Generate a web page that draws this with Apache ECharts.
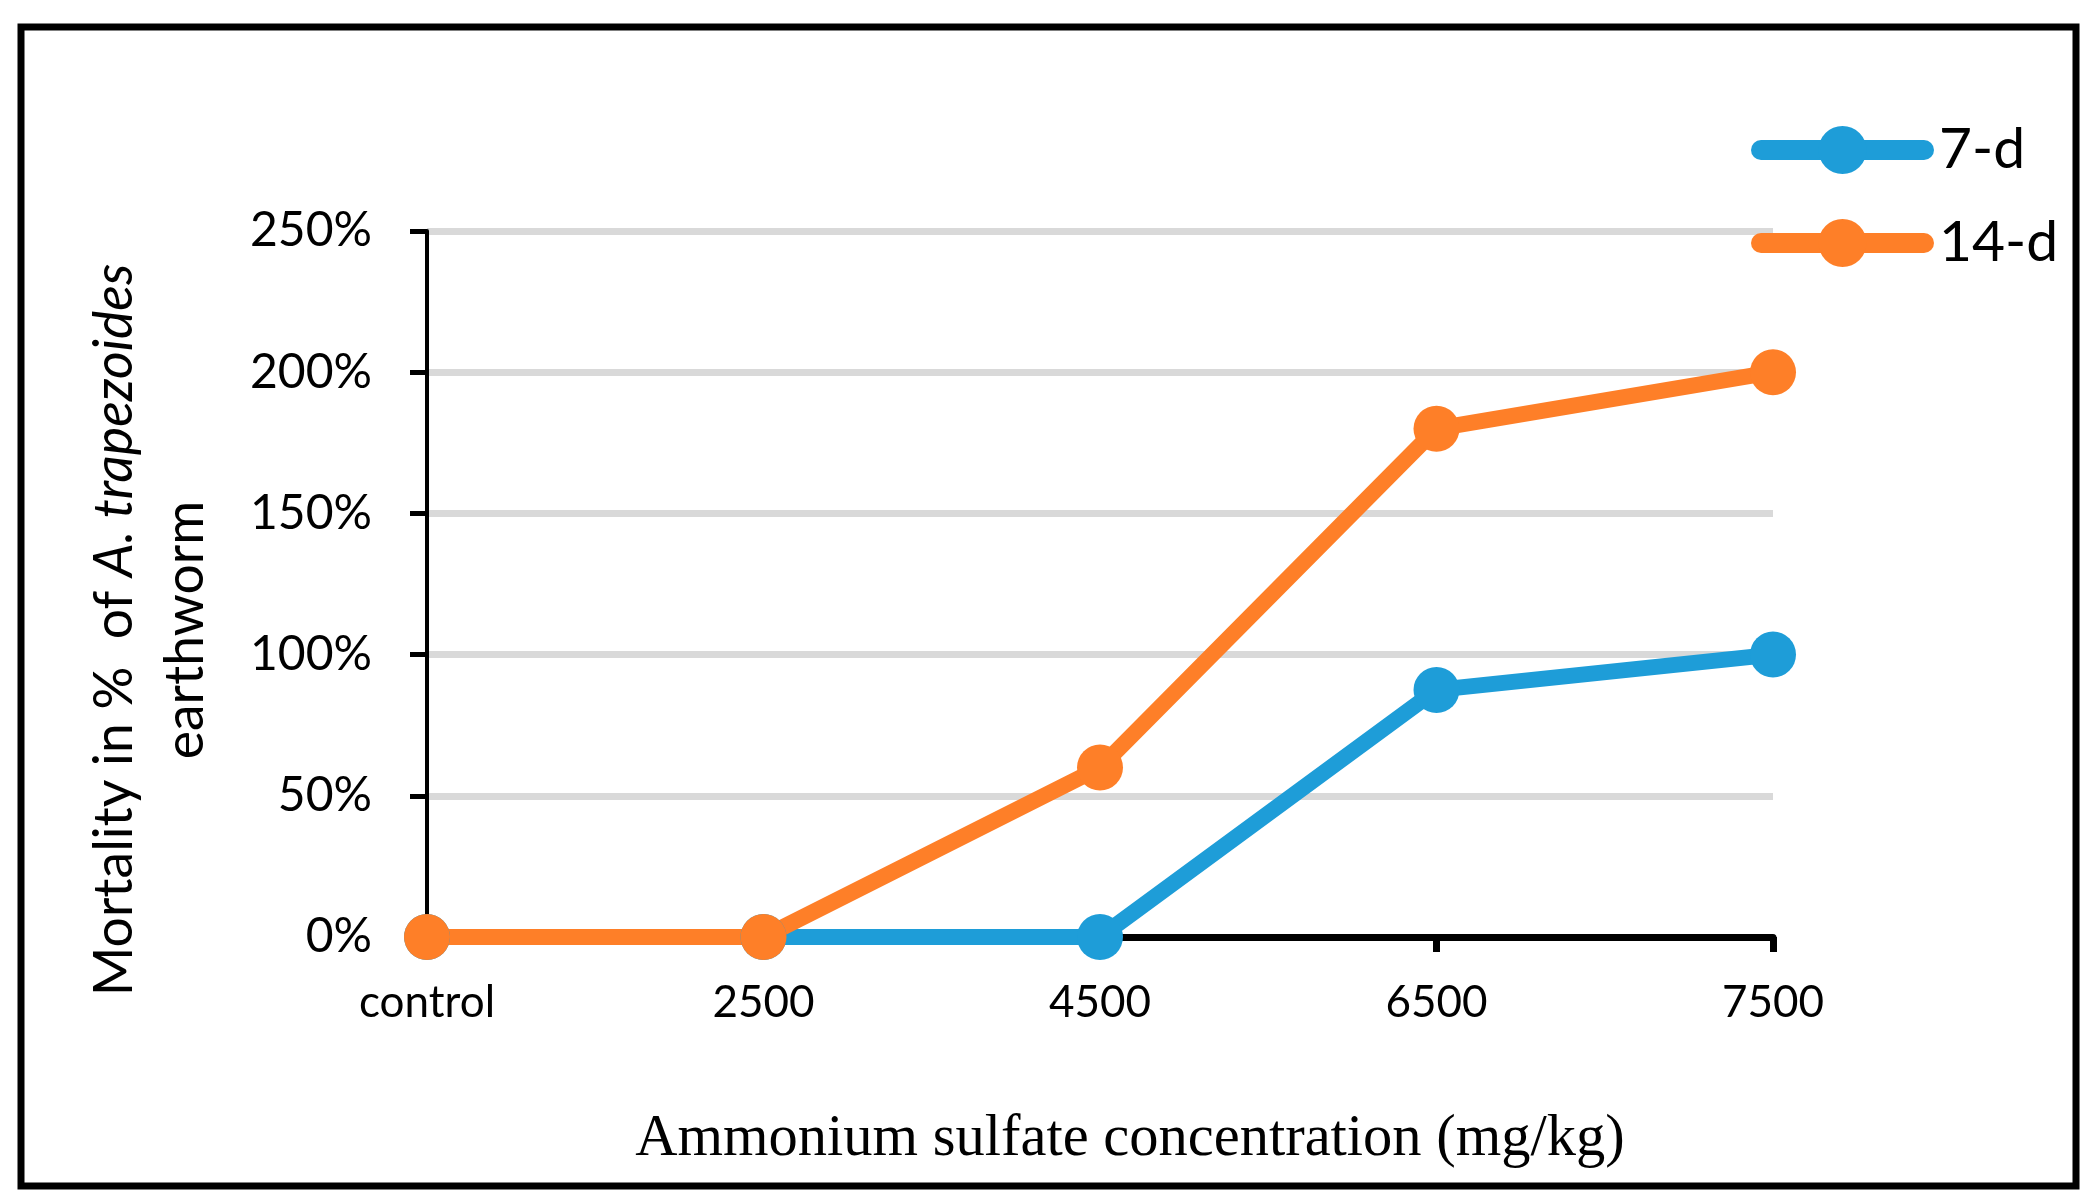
<!DOCTYPE html>
<html>
<head>
<meta charset="utf-8">
<script src="https://cdn.jsdelivr.net/npm/echarts@6/dist/echarts.min.js"></script>
<style>
html,body{margin:0;padding:0;background:#fff;}
#chart{width:2095px;height:1202px;}
</style>
</head>
<body>
<div id="chart"></div>
<script>
const categories = ['control', '2500', '4500', '6500', '7500'];
const mortality7d = [0, 0, 0, 87.5, 100];
const mortality14d = [0, 0, 60, 180, 200];
const yTicks = { min: 0, max: 250, interval: 50 };
const seriesNames = ['7-d', '14-d'];
const xAxisTitle = 'Ammonium sulfate concentration (mg/kg)';
const yTitleLine1a = 'Mortality in %  of ';
const yTitleLine1b = 'A. trapezoides';
const yTitleLine2 = 'earthworm';

const chart = echarts.init(document.getElementById('chart'));
const sansFont = 'Lato';
chart.setOption({
  animation: false,
  backgroundColor: '#ffffff',
  grid: { left: 427, right: 322, top: 231, bottom: 265, containLabel: false },
  legend: {
    orient: 'vertical',
    left: 1751,
    top: 120,
    padding: 0,
    itemWidth: 163,
    itemHeight: 60,
    itemGap: 33,
    data: seriesNames,
    lineStyle: { width: 20, cap: 'round' },
    textStyle: { fontFamily: sansFont, fontSize: 57, color: '#000', lineHeight: 60, padding: [0, 0, 0, 10] }
  },
  xAxis: {
    type: 'category',
    data: categories,
    boundaryGap: false,
    axisLine: { lineStyle: { color: '#000', width: 7 } },
    axisTick: { show: true, length: 15, lineStyle: { color: '#000', width: 7 } },
    axisLabel: { fontFamily: sansFont, fontSize: 44, color: '#000', margin: 44 },
    splitLine: { show: false }
  },
  yAxis: {
    type: 'value',
    min: yTicks.min,
    max: yTicks.max,
    interval: yTicks.interval,
    axisLine: { show: true, lineStyle: { color: '#000', width: 4 } },
    axisTick: { show: true, length: 17, lineStyle: { color: '#000', width: 5 } },
    axisLabel: { fontFamily: sansFont, fontSize: 48, color: '#000', margin: 55, formatter: '{value}%' },
    splitLine: { show: true, lineStyle: { color: '#d9d9d9', width: 7 } }
  },
  series: [
    {
      name: seriesNames[0],
      type: 'line',
      data: mortality7d,
      symbol: 'circle',
      symbolSize: 46,
      itemStyle: { color: '#1e9dd8' },
      lineStyle: { width: 16, color: '#1e9dd8' }
    },
    {
      name: seriesNames[1],
      type: 'line',
      data: mortality14d,
      symbol: 'circle',
      symbolSize: 46,
      itemStyle: { color: '#fe7f28' },
      lineStyle: { width: 16, color: '#fe7f28' }
    }
  ],
  graphic: [
    {
      type: 'rect',
      shape: { x: 21, y: 27, width: 2055, height: 1159 },
      style: { fill: 'none', stroke: '#000', lineWidth: 7 },
      silent: true
    },
    {
      type: 'text',
      x: 1130,
      y: 1140,
      style: {
        text: xAxisTitle,
        fontFamily: 'Liberation Serif',
        fontSize: 58.5,
        fill: '#000',
        align: 'center',
        verticalAlign: 'middle'
      }
    },
    {
      type: 'text',
      x: 150,
      y: 630,
      rotation: Math.PI / 2,
      style: {
        text: '{n|' + yTitleLine1a + '}{i|' + yTitleLine1b + '}\n{n|' + yTitleLine2 + '}',
        align: 'center',
        verticalAlign: 'middle',
        fill: '#000',
        rich: {
          n: { fontFamily: sansFont, fontSize: 53.5, lineHeight: 71, fill: '#000' },
          i: { fontFamily: sansFont, fontSize: 53.5, lineHeight: 71, fontStyle: 'italic', fill: '#000' }
        }
      }
    }
  ]
});
</script>
</body>
</html>
